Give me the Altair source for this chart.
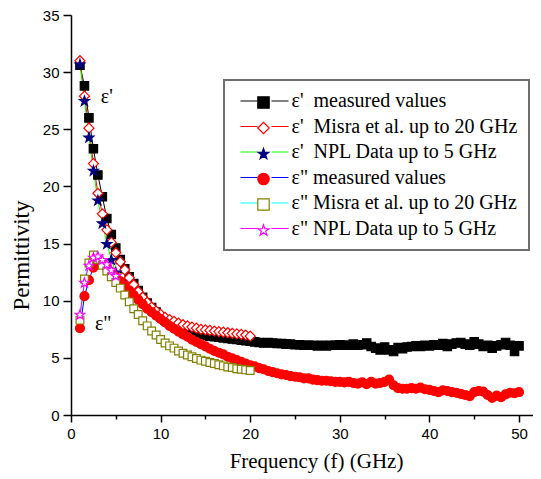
import altair as alt
import pandas as pd

# ---------------- data ----------------
freq_meas = [1.0 + 0.5 * i for i in range(99)]
eps1_meas = [
    30.6, 28.8, 26.0, 23.3, 21.0, 19.1, 17.2, 15.8, 14.6, 13.6,
    12.8, 12.1, 11.5, 10.9, 10.3, 9.8, 9.4, 9.0, 8.6, 8.3,
    8.05, 7.85, 7.65, 7.5, 7.35, 7.25, 7.15, 7.05, 6.95, 6.9,
    6.85, 6.8, 6.75, 6.7, 6.65, 6.6, 6.55, 6.5, 6.45, 6.4,
    6.35, 6.3, 6.35, 6.3, 6.25, 6.25, 6.2, 6.2, 6.15, 6.15,
    6.1, 6.1, 6.1, 6.05, 6.1, 6.05, 6.1, 6.1, 6.15, 6.1,
    6.1, 6.2, 6.1, 6.15, 6.3, 6.0, 5.85, 5.7, 5.95, 5.7,
    5.55, 5.9, 5.8, 5.95, 6.0, 6.05, 6.0, 6.1, 6.05, 6.15,
    6.1, 6.25, 6.0, 6.2, 6.3, 6.35, 6.2, 6.1, 6.4, 6.2,
    6.0, 6.1, 5.85, 6.05, 6.15, 6.35, 6.1, 5.55, 6.05,
]
eps2_meas = [
    7.6, 10.4, 11.8, 12.9, 13.3, 13.2, 12.9, 12.5, 12.1, 11.7,
    11.3, 10.9, 10.5, 10.1, 9.7, 9.3, 9.0, 8.7, 8.4, 8.1,
    7.8, 7.55, 7.3, 7.05, 6.85, 6.6, 6.4, 6.2, 6.0, 5.8,
    5.6, 5.45, 5.3, 5.1, 4.95, 4.8, 4.65, 4.5, 4.35, 4.25,
    4.1, 4.0, 3.85, 3.75, 3.65, 3.55, 3.5, 3.4, 3.35, 3.3,
    3.2, 3.2, 3.1, 3.05, 3.0, 3.0, 2.95, 2.9, 2.9, 2.85,
    2.9, 2.8, 2.75, 2.85, 2.7, 2.9, 2.75, 2.8, 2.9, 3.1,
    2.6, 2.35, 2.3, 2.3, 2.35, 2.3, 2.4, 2.25, 2.2, 2.1,
    2.0, 2.15, 2.1, 2.0, 1.95, 1.85, 1.75, 1.65, 2.0, 2.1,
    2.05, 1.75, 1.5, 1.7, 1.55, 1.8, 1.95, 1.9, 2.0,
]
freq_misra = [1.0 + 0.5 * i for i in range(39)]
eps1_misra = [
    31.0, 27.9, 25.1, 22.0, 19.4, 17.6, 16.2, 15.1, 14.2, 13.4,
    12.7, 12.0, 11.4, 10.8, 10.3, 9.85, 9.45, 9.1, 8.8, 8.55,
    8.35, 8.2, 8.05, 7.9, 7.8, 7.7, 7.6, 7.5, 7.45, 7.4,
    7.35, 7.3, 7.25, 7.2, 7.15, 7.1, 7.05, 7.0, 6.9,
]
eps2_misra = [
    8.3, 11.9, 13.3, 14.0, 13.6, 13.1, 12.6, 12.1, 11.6, 11.1,
    10.5, 9.9, 9.3, 8.8, 8.25, 7.8, 7.35, 7.0, 6.6, 6.3,
    6.05, 5.85, 5.6, 5.4, 5.25, 5.1, 4.95, 4.8, 4.7, 4.6,
    4.5, 4.4, 4.3, 4.2, 4.15, 4.05, 4.0, 3.95, 3.9,
]
freq_npl = [1.0 + 0.5 * i for i in range(9)]
eps1_npl = [30.7, 27.5, 24.3, 21.4, 18.8, 16.8, 15.0, 13.6, 12.5]
eps2_npl = [8.8, 11.6, 13.1, 13.8, 13.9, 13.6, 13.2, 12.7, 12.2]

labels = [
    "ε'\u00a0 measured values",
    "ε'\u00a0 Misra et al. up to 20 GHz",
    "ε'\u00a0 NPL Data up to 5 GHz",
    'ε" measured values',
    'ε" Misra et al. up to 20 GHz',
    'ε" NPL Data up to 5 GHz',
]
marker_keys = ["m1", "m2", "m3", "m4", "m5", "m6"]
line_colors = ["#000000", "#FF0000", "#00FF00", "#0000FF", "#00FFFF", "#FF00FF"]
STAR = ("M0,-0.905L0.235,-0.229L0.951,-0.214L0.38,0.219L0.588,0.904L0,0.495"
        "L-0.588,0.904L-0.38,0.219L-0.951,-0.214L-0.235,-0.229Z")
marker_shapes = ["square", "diamond", STAR, "circle", "square", STAR]
marker_fill = ["#000000", "#FFFFFF", "#000080", "#FF0000", "#FFFFFF", "#FFFFFF"]
marker_stroke = ["#000000", "#FF0000", "#000080", "#FF0000", "#808000", "#FF00FF"]
marker_sizes = [70, 100, 110, 80, 60, 100]

series_data = [
    (freq_meas, eps1_meas),
    (freq_misra, eps1_misra),
    (freq_npl, eps1_npl),
    (freq_meas, eps2_meas),
    (freq_misra, eps2_misra),
    (freq_npl, eps2_npl),
]
rows = []
for i, (fs, vs) in enumerate(series_data):
    for f, v in zip(fs, vs):
        rows.append({"f": f, "v": v, "series": labels[i], "marker": marker_keys[i],
                     "msize": marker_sizes[i]})
df = pd.DataFrame(rows)

ann_x = [4.0, 3.6]
ann_y = [27.8, 8.0]
ann_text = ["ε'", 'ε"']
df_ann = pd.DataFrame({"x": ann_x, "y": ann_y, "t": ann_text})

# ---------------- axes ----------------
xaxis = alt.Axis(
    values=[0, 5, 10, 15, 20, 25, 30, 35, 40, 45, 50],
    labelExpr="datum.value % 10 === 0 ? datum.label : ''",
    tickSize={"condition": {"test": "datum.value % 10 === 0", "value": 7}, "value": 4},
    title="Frequency (f) (GHz)", grid=False,
    domainColor="black", domainWidth=1.5, tickColor="black", tickWidth=1.5,
    labelFont="Liberation Sans", labelFontSize=15, labelColor="black",
    labelPadding=4, labelFlush=False,
    titleFont="Liberation Serif", titleFontSize=21, titleFontWeight="normal",
    titleColor="black", titlePadding=9, titleX=245,
)
yaxis = alt.Axis(
    values=[0, 2.5, 5, 7.5, 10, 12.5, 15, 17.5, 20, 22.5, 25, 27.5, 30, 32.5, 35],
    labelExpr="datum.value % 5 === 0 ? datum.label : ''",
    tickSize={"condition": {"test": "datum.value % 5 === 0", "value": 8}, "value": 5},
    title="Permittivity", grid=False,
    domainColor="black", domainWidth=1.5, tickColor="black", tickWidth=1.5,
    labelFont="Liberation Sans", labelFontSize=15, labelColor="black",
    labelPadding=4, labelFlush=False,
    titleFont="Liberation Serif", titleFontSize=23, titleFontWeight="normal",
    titleColor="black", titlePadding=9, titleY=240,
)

xs = alt.Scale(domain=[0, 51.56], nice=False, zero=False)
ys = alt.Scale(domain=[0, 35], nice=False, zero=False)

leg_lines = alt.Legend(
    orient="none", legendX=153, legendY=65, title=None,
    symbolType="M-4.8,0L-1.4,0M1.4,0L4.8,0", symbolSize=100, symbolStrokeWidth=1,
    symbolOffset=19.5,
    labelFont="Liberation Serif", labelFontSize=20, labelColor="black",
    labelLimit=400, labelOffset=17, rowPadding=5.5, padding=11,
    strokeColor="#6e6e6e",
)
leg_marks = alt.Legend(
    orient="none", legendX=171.5, legendY=66.5, title=None,
    symbolSize=130, symbolStrokeWidth=1.2, symbolOpacity=1,
    labelExpr="''", labelFontSize=20,
    labelOffset=0, rowPadding=5.5, padding=11,
    strokeColor="transparent",
)

lines = alt.Chart(df).mark_line(strokeWidth=1).encode(
    x=alt.X("f:Q", scale=xs, axis=xaxis),
    y=alt.Y("v:Q", scale=ys, axis=yaxis),
    color=alt.Color("series:N", scale=alt.Scale(domain=labels, range=line_colors),
                    legend=leg_lines),
)

points = alt.Chart(df).mark_point(opacity=1, strokeWidth=1.2).encode(
    x=alt.X("f:Q", scale=xs),
    y=alt.Y("v:Q", scale=ys),
    shape=alt.Shape("marker:N", scale=alt.Scale(domain=marker_keys, range=marker_shapes),
                    legend=leg_marks),
    fill=alt.Fill("marker:N", scale=alt.Scale(domain=marker_keys, range=marker_fill),
                  legend=leg_marks),
    stroke=alt.Stroke("marker:N", scale=alt.Scale(domain=marker_keys, range=marker_stroke),
                      legend=leg_marks),
    size=alt.Size("msize:Q", scale=None),
)

ann = alt.Chart(df_ann).mark_text(
    font="Liberation Serif", fontSize=20, color="black", align="center", baseline="middle"
).encode(
    x=alt.X("x:Q", scale=xs),
    y=alt.Y("y:Q", scale=ys),
    text="t:N",
)

chart = alt.layer(lines, points, ann).properties(
    width=462, height=400,
    padding={"left": 63, "top": 7, "right": 0, "bottom": 58},
    autosize=alt.AutoSizeParams(type="none"),
).configure_view(stroke="transparent").configure_legend(strokeWidth=2)

chart.save("out.html", embed_options={"renderer": "svg", "actions": False})
